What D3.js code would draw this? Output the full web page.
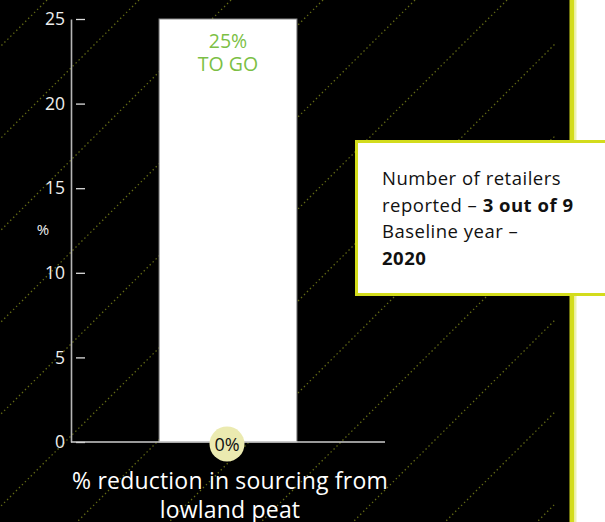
<!DOCTYPE html>
<html>
<head>
<meta charset="utf-8">
<script src="https://cdn.jsdelivr.net/npm/d3@7"></script>
<style>
  body { margin: 0; background: #fff; }
  svg { display: block; font-family: "Open Sans", sans-serif; }
</style>
</head>
<body>
<div id="chart"></div>
<script>
// peat sourcing progress card
var categories = ["% reduction in sourcing from lowland peat"];
var targetValues = [25];
var progressValues = [0];
var yTicks = [0, 5, 10, 15, 20, 25];
var infoLines = [
  [{t: "Number of retailers", b: false}],
  [{t: "reported \u2013 ", b: false}, {t: "3 out of 9", b: true}],
  [{t: "Baseline year \u2013", b: false}],
  [{t: "2020", b: true}]
];

var width = 605, height = 522;
var panelRight = 570;

var svg = d3.select("#chart").append("svg")
    .attr("width", width)
    .attr("height", height);

// dark panel + white side
svg.append("rect").attr("x", 0).attr("y", 0).attr("width", width).attr("height", height).style("fill", "#fff");
svg.append("rect").attr("x", 0).attr("y", 0).attr("width", panelRight).attr("height", height).style("fill", "#000");

// diagonal dotted stripes
svg.append("clipPath").attr("id", "stripeClip")
  .append("rect").attr("x", 0).attr("y", 0).attr("width", 555).attr("height", height);

var stripes = d3.range(0, 13).map(function(k){ return 47 + 92 * k; });
svg.append("g").attr("clip-path", "url(#stripeClip)")
  .selectAll("line").data(stripes).enter().append("line")
    .attr("x1", function(c){ return c; })
    .attr("y1", 0)
    .attr("x2", function(c){ return c - height; })
    .attr("y2", height)
    .style("stroke", "#636a14")
    .style("stroke-width", 1.3)
    .style("stroke-dasharray", "1.4,2.8");

// yellow divider
svg.append("rect").attr("x", panelRight - 0.5).attr("y", 0).attr("width", 5).attr("height", height).style("fill", "#d3dc1c");
svg.append("rect").attr("x", panelRight + 4.5).attr("y", 0).attr("width", 2).attr("height", height).style("fill", "#eef2b0");

var xScale = d3.scaleBand().domain(categories).range([71, 385]).padding(0.39);
var yScale = d3.scaleLinear().domain([0, 25]).range([442, 19]);

// bars
svg.selectAll(".bar").data(categories).enter().append("rect")
    .attr("class", "bar")
    .attr("x", function(d){ return xScale(d); })
    .attr("width", xScale.bandwidth())
    .attr("y", function(d, i){ return yScale(targetValues[i]); })
    .attr("height", function(d, i){ return yScale(0) - yScale(targetValues[i]); })
    .style("fill", "#fff")
    .style("stroke", "#8a8a8a")
    .style("stroke-width", 1);

// y axis
var yAxis = d3.axisLeft(yScale).tickValues(yTicks).tickSize(0).tickPadding(6);
var yG = svg.append("g").attr("transform", "translate(71,0)").call(yAxis);
yG.select(".domain").style("stroke", "#b5b5b5").style("stroke-width", 1.6);
yG.selectAll(".tick text").style("fill", "#eee").style("font-size", "17.5px").style("font-family", "Open Sans");
yG.selectAll(".tick").append("line")
    .attr("x1", 5).attr("x2", 14)
    .style("stroke", "#ddd").style("stroke-width", 1.3);

// x axis line
svg.append("line")
    .attr("x1", 71).attr("x2", 385)
    .attr("y1", yScale(0)).attr("y2", yScale(0))
    .style("stroke", "#ccc").style("stroke-width", 1.6);

svg.append("text")
    .attr("x", 43).attr("y", 235)
    .style("text-anchor", "middle")
    .style("fill", "#eee")
    .style("font-size", "15px")
    .text("%");

// "to go" label inside bar
categories.forEach(function(d, i){
  var cx = xScale(d) + xScale.bandwidth() / 2;
  var toGo = svg.append("text")
      .attr("x", cx).attr("y", 48)
      .style("text-anchor", "middle")
      .style("fill", "#7cbf45")
      .style("font-size", "19.5px");
  toGo.append("tspan").attr("x", cx).attr("dy", 0).text((targetValues[i] - progressValues[i]) + "%");
  toGo.append("tspan").attr("x", cx).attr("dy", 23).text("TO GO");

  // progress bubble
  svg.append("circle")
      .attr("cx", cx - 1).attr("cy", yScale(progressValues[i]) + 2)
      .attr("r", 17.5)
      .style("fill", "#ebeab0");
  svg.append("text")
      .attr("x", cx - 1).attr("y", yScale(progressValues[i]) + 8.5)
      .style("text-anchor", "middle")
      .style("fill", "#111")
      .style("font-size", "18px")
      .text(progressValues[i] + "%");

  // category label, wrapped in two lines
  var lab = svg.append("text")
      .attr("x", cx + 2).attr("y", 489)
      .style("text-anchor", "middle")
      .style("fill", "#fff")
      .style("font-size", "23px")
      .style("letter-spacing", "0.2px");
  lab.append("tspan").attr("x", cx + 2).attr("dy", 0).text("% reduction in sourcing from");
  lab.append("tspan").attr("x", cx + 2).attr("dy", 29).text("lowland peat");
});

// info box
svg.append("rect")
    .attr("x", 356.5).attr("y", 141.5)
    .attr("width", 260).attr("height", 153)
    .style("fill", "#fff")
    .style("stroke", "#d3dc1c")
    .style("stroke-width", 3);

var info = svg.append("text")
    .attr("x", 382).attr("y", 185)
    .style("fill", "#111")
    .style("font-size", "18.5px")
    .style("letter-spacing", "0.5px");
infoLines.forEach(function(line, i){
  line.forEach(function(part, j){
    var ts = info.append("tspan").text(part.t).style("font-weight", part.b ? 700 : 400);
    if (j == 0) ts.attr("x", 382).attr("dy", i == 0 ? 0 : 26.7);
  });
});
</script>
</body>
</html>
